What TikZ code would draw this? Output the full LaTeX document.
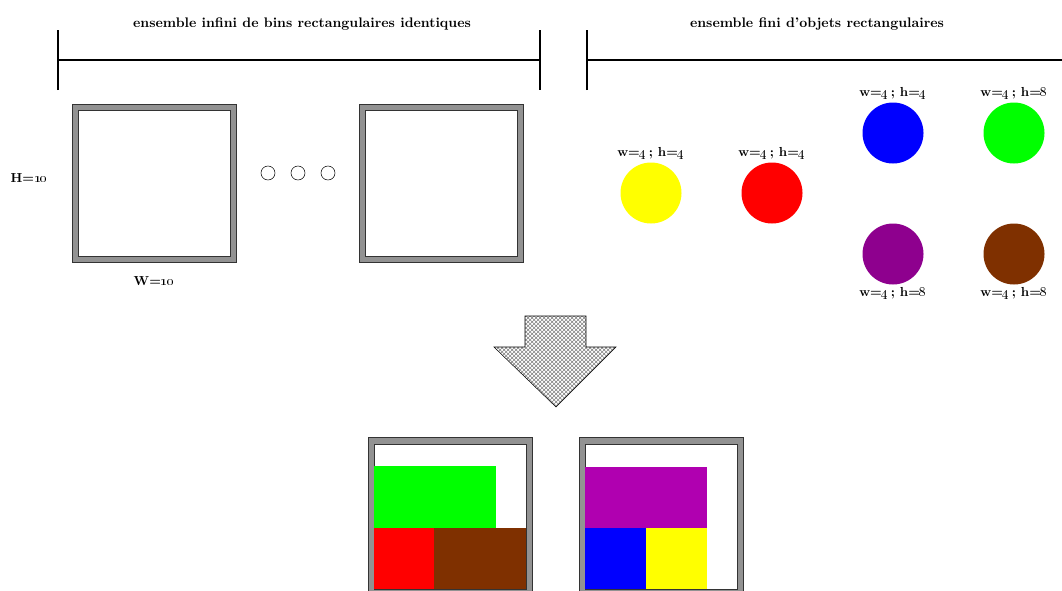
\documentclass[tikz,border=0pt]{standalone}
\usepackage{tikz}
\usetikzlibrary{positioning,patterns,arrows.meta}
\definecolor{binGrey}{HTML}{929292}
\definecolor{objYellow}{HTML}{FFFF00}
\definecolor{objGreen}{HTML}{00FF00}
\definecolor{objPurple}{HTML}{8E008E}
\definecolor{objMagenta}{HTML}{B000B0}
\definecolor{objBrown}{HTML}{7F3000}
\tikzset{
	lbl/.style={font=\fontsize{9.8}{11}\selectfont\bfseries, inner sep=1pt},
	titre/.style={font=\fontsize{10.4}{12}\selectfont\bfseries, inner sep=1pt},
	obj/.style={circle, minimum size=45.75pt, inner sep=0pt},
	binout/.style={draw=black!80, line width=0.6pt, fill=binGrey},
	binin/.style={draw=black!80, line width=0.6pt, fill=white},
}

\begin{document}
\begin{tikzpicture}[x=0.75pt,y=-0.75pt]
	\clip (0,0) rectangle (1062,590);
	% accolades du haut
	\draw[{Bar[width=45pt]}-{Bar[width=45pt]},line width=1.5pt] (57,60) -- (541,60);
	\draw[{Bar[width=45pt]}-,line width=1.5pt] (586,60) -- (1062,60);
	\node[titre] (lblbins) at (302,24) {ensemble infini de bins rectangulaires identiques};
	\node[titre] (lblobjs) at (817,24) {ensemble fini d’objets rectangulaires};
	% bins
	\foreach \bx in {72,359} {
		\draw[binout] (\bx,104) rectangle ++(164,158);
		\draw[binin] (\bx+6,110) rectangle ++(152,146);
	}
	\foreach \dx [count=\i] in {268,298,328}
		\node[draw, circle, minimum size=10.5pt, inner sep=0pt] (dot\i) at (\dx,173) {};
	\node[lbl] (hlabel) at (29,178) {H=\oldstylenums{10}};
	\node[lbl] (wlabel) at (154,281) {W=\oldstylenums{10}};
	% objets
	\node[obj, fill=objYellow] (oyellow) at (651,193) {};
	\node[obj, fill=red] (ored) at (772,193) {};
	\node[obj, fill=blue] (oblue) at (893,133) {};
	\node[obj, fill=objGreen] (ogreen) at (1014,133) {};
	\node[obj, fill=objPurple] (opurple) at (893,254) {};
	\node[obj, fill=objBrown] (obrown) at (1014,254) {};
	\node[lbl, above=1pt of oyellow] (lyellow) {w=\oldstylenums{4}\,; h=\oldstylenums{4}};
	\node[lbl, above=1pt of ored] (lred) {w=\oldstylenums{4}\,; h=\oldstylenums{4}};
	\node[lbl, above=1pt of oblue] (lblue) {w=\oldstylenums{4}\,; h=\oldstylenums{4}};
	\node[lbl, above=1pt of ogreen] (lgreen) {w=\oldstylenums{4}\,; h=\oldstylenums{8}};
	\node[lbl, below=1pt of opurple] (lpurple) {w=\oldstylenums{4}\,; h=\oldstylenums{8}};
	\node[lbl, below=1pt of obrown] (lbrown) {w=\oldstylenums{4}\,; h=\oldstylenums{8}};
	% fleche
	\draw[pattern=crosshatch, pattern color=black!50] (525,316) -- (586,316) -- (586,347) -- (616,347)
		-- (556,407) -- (494,347) -- (525,347) -- cycle;
	% bins remplis
	\foreach \bx in {368,579} {
		\draw[binout] (\bx,437) rectangle ++(164,158);
		\draw[binin] (\bx+6,444) rectangle ++(152,145);
	}
	\fill[objGreen] (374,466) rectangle (496,528);
	\fill[red] (374,528) rectangle (434,589);
	\fill[objBrown] (434,528) rectangle (526,589);
	\fill[objMagenta] (585,467) rectangle (707,528);
	\fill[blue] (585,528) rectangle (646,589);
	\fill[objYellow] (646,528) rectangle (707,589);
\end{tikzpicture}
\end{document}
